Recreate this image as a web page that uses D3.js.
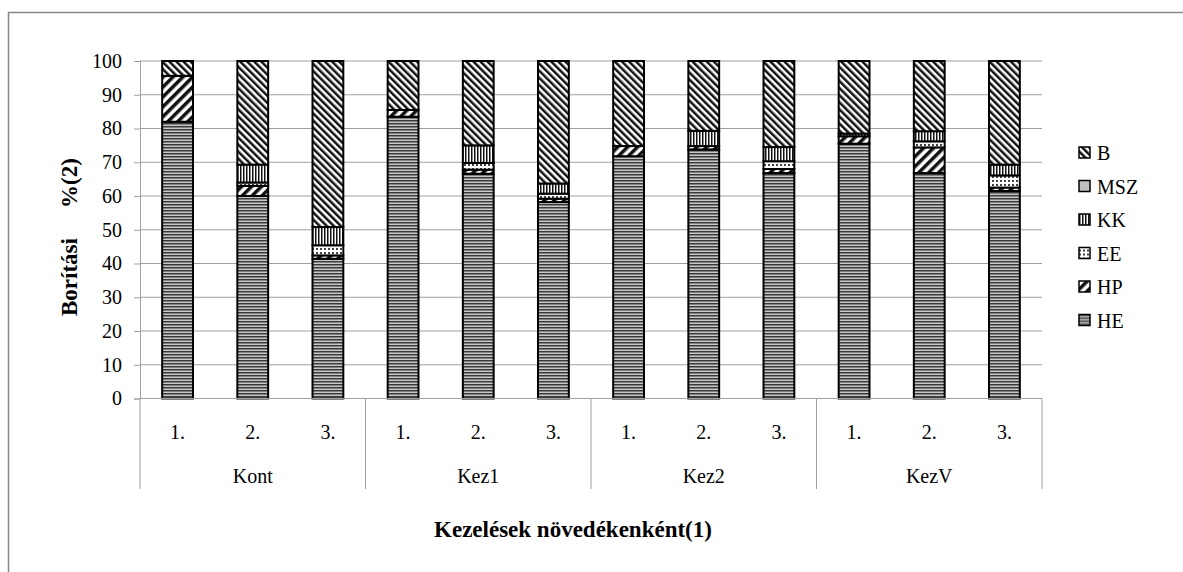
<!DOCTYPE html>
<html>
<head>
<meta charset="utf-8">
<script src="https://cdn.jsdelivr.net/npm/d3@7/dist/d3.min.js"></script>
<style>
  body { margin: 0; background: #fff; }
  svg text { font-family: 'Liberation Serif', 'Times New Roman', serif; }
</style>
</head>
<body>
<div id="chart"></div>
<script>
// Treatment groups and increments
const groups = ['Kont', 'Kez1', 'Kez2', 'KezV'];
const increments = ['1.', '2.', '3.'];
const seriesKeys = ['HE', 'HP', 'EE', 'KK', 'MSZ', 'B'];
const yTicks = [0, 10, 20, 30, 40, 50, 60, 70, 80, 90, 100];

// Cover values (%) per bar, in order Kont 1-3, Kez1 1-3, Kez2 1-3, KezV 1-3
const HE = [82, 60, 41.4, 83.5, 66.6, 58.2, 71.8, 73.8, 66.8, 75.5, 66.8, 61.5];
const HP = [13.6, 3, 1, 2, 1.2, 1, 3, 1, 1.2, 2.2, 7.6, 1];
const EE = [0, 1, 3, 0, 2, 1.5, 0, 0, 2.3, 0, 1.8, 3.6];
const KK = [0, 5.3, 5.4, 0, 5.2, 3, 0, 4.5, 4.2, 0.8, 3, 3.2];
const MSZ = [0, 0, 0, 0, 0, 0, 0, 0, 0, 0, 0, 0];
const B = [4.4, 30.7, 49.2, 14.5, 25, 36.3, 25.2, 20.7, 25.5, 21.5, 20.8, 30.7];

const width = 1183;
const height = 572;
const plot = { left: 140, right: 1042, top: 61, bottom: 398.5 };
const fontSize = 20;
const titleSize = 23;

const svg = d3.select('#chart')
    .append('svg')
    .attr('width', width)
    .attr('height', height);

// Hatch patterns (black & white chart)
const defs = svg.append('defs');

function pattern(id, w, h) {
    return defs.append('pattern')
        .attr('id', id)
        .attr('patternUnits', 'userSpaceOnUse')
        .attr('width', w)
        .attr('height', h);
}

// HE - horizontal stripes
let p = pattern('p-HE', 4, 3);
p.append('rect').attr('width', 4).attr('height', 3).attr('fill', '#c8c8c8');
p.append('rect').attr('y', 0).attr('width', 4).attr('height', 1.5).attr('fill', '#3a3a3a');

// HP - wide forward diagonal
p = pattern('p-HP', 7, 7).attr('patternTransform', 'rotate(45)');
p.append('rect').attr('width', 7).attr('height', 7).attr('fill', '#fff');
p.append('rect').attr('width', 3.5).attr('height', 7).attr('fill', '#111');

// EE - small dots
p = pattern('p-EE', 4, 4);
p.append('rect').attr('width', 4).attr('height', 4).attr('fill', '#fff');
p.append('rect').attr('x', 0).attr('y', 0).attr('width', 2).attr('height', 2).attr('fill', '#444');

// KK - vertical lines
p = pattern('p-KK', 3, 3);
p.append('rect').attr('width', 3).attr('height', 3).attr('fill', '#fff');
p.append('rect').attr('width', 1.5).attr('height', 3).attr('fill', '#111');

// B - back diagonal
p = pattern('p-B', 5, 5).attr('patternTransform', 'rotate(-45)');
p.append('rect').attr('width', 5).attr('height', 5).attr('fill', '#fff');
p.append('rect').attr('width', 2.5).attr('height', 5).attr('fill', '#111');

const fills = {
    HE: 'url(#p-HE)',
    HP: 'url(#p-HP)',
    EE: 'url(#p-EE)',
    KK: 'url(#p-KK)',
    MSZ: '#c0c0c0',
    B: 'url(#p-B)'
};

// Outer chart border
svg.append('rect')
    .attr('x', 8.5).attr('y', 12.5)
    .attr('width', 1300).attr('height', 700)
    .attr('fill', 'none')
    .attr('stroke', '#888')
    .attr('stroke-width', 1.5);

// Build rows
const categories = [];
groups.forEach(g => increments.forEach(s => categories.push(g + ' ' + s)));
const valueArrays = { HE, HP, EE, KK, MSZ, B };
const rows = categories.map((c, i) => {
    const row = { cat: c, group: groups[Math.floor(i / 3)], inc: increments[i % 3] };
    seriesKeys.forEach(k => row[k] = valueArrays[k][i]);
    return row;
});

const x = d3.scaleBand()
    .domain(categories)
    .range([plot.left, plot.right])
    .padding(0);

const y = d3.scaleLinear()
    .domain([0, 100])
    .range([plot.bottom, plot.top]);

// Gridlines
svg.append('g')
    .selectAll('line')
    .data(yTicks.filter(t => t > 0))
    .join('line')
    .attr('x1', plot.left).attr('x2', plot.right)
    .attr('y1', d => y(d)).attr('y2', d => y(d))
    .attr('stroke', '#a0a0a0')
    .attr('stroke-width', 1);

// Y axis
const yAxis = svg.append('g')
    .attr('transform', `translate(${plot.left},0)`)
    .call(d3.axisLeft(y).tickValues(yTicks).tickSize(6).tickPadding(12))
    .attr('font-size', fontSize);
yAxis.select('.domain').attr('stroke', '#a0a0a0');
yAxis.selectAll('.tick line').attr('stroke', '#a0a0a0');
yAxis.selectAll('text').attr('fill', '#000');

// Stacked bars
const stack = d3.stack().keys(seriesKeys);
const stacked = stack(rows);
const barWidth = x.bandwidth() * 0.41;

const layers = svg.append('g')
    .selectAll('g')
    .data(stacked)
    .join('g')
    .attr('fill', d => fills[d.key]);

layers.selectAll('rect')
    .data(d => d.filter(s => s[1] - s[0] > 0))
    .join('rect')
    .attr('x', d => x(d.data.cat) + (x.bandwidth() - barWidth) / 2)
    .attr('y', d => y(d[1]))
    .attr('width', barWidth)
    .attr('height', d => y(d[0]) - y(d[1]))
    .attr('stroke', '#000')
    .attr('stroke-width', 2);

// X axis baseline
svg.append('line')
    .attr('x1', plot.left).attr('x2', plot.right)
    .attr('y1', plot.bottom).attr('y2', plot.bottom)
    .attr('stroke', '#a0a0a0');

// Increment labels
svg.append('g')
    .attr('font-size', fontSize)
    .selectAll('text')
    .data(rows)
    .join('text')
    .attr('x', d => x(d.cat) + x.bandwidth() / 2)
    .attr('y', 439)
    .attr('text-anchor', 'middle')
    .text(d => d.inc);

// Group labels and separators
const groupWidth = x.bandwidth() * 3;
svg.append('g')
    .attr('font-size', fontSize)
    .selectAll('text')
    .data(groups)
    .join('text')
    .attr('x', (d, i) => plot.left + groupWidth * i + groupWidth / 2)
    .attr('y', 483)
    .attr('text-anchor', 'middle')
    .text(d => d);

svg.append('g')
    .selectAll('line')
    .data(d3.range(groups.length + 1))
    .join('line')
    .attr('x1', i => plot.left + groupWidth * i)
    .attr('x2', i => plot.left + groupWidth * i)
    .attr('y1', plot.bottom)
    .attr('y2', 489)
    .attr('stroke', '#a0a0a0');

// Axis titles
svg.append('text')
    .attr('x', 573)
    .attr('y', 537)
    .attr('text-anchor', 'middle')
    .attr('font-size', titleSize)
    .attr('font-weight', 'bold')
    .text('Kezelések növedékenként(1)');

const yTitle = svg.append('text')
    .attr('transform', 'translate(77,0) rotate(-90)')
    .attr('font-size', titleSize)
    .attr('font-weight', 'bold');
yTitle.append('tspan')
    .attr('x', -316)
    .attr('text-anchor', 'start')
    .text('Borítási ');
yTitle.append('tspan')
    .attr('x', -183)
    .attr('text-anchor', 'middle')
    .text('%(2)');

// Legend (top to bottom: B ... HE)
const legendKeys = seriesKeys.slice().reverse();
const legend = svg.append('g')
    .selectAll('g')
    .data(legendKeys)
    .join('g')
    .attr('transform', (d, i) => `translate(1079,${153 + i * 33.5})`);

legend.append('rect')
    .attr('x', 0).attr('y', -6)
    .attr('width', 11).attr('height', 11)
    .attr('fill', d => fills[d])
    .attr('stroke', '#000')
    .attr('stroke-width', 1.5);

legend.append('text')
    .attr('x', 18)
    .attr('y', 0)
    .attr('dy', '0.35em')
    .attr('font-size', fontSize)
    .text(d => d);
</script>
</body>
</html>
